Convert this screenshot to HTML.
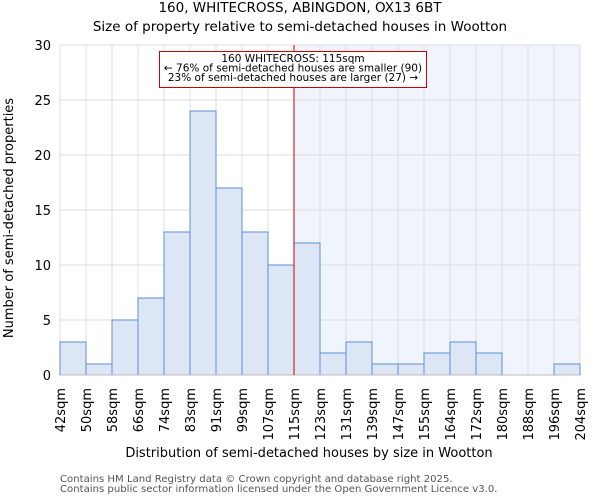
<!DOCTYPE html>
<html><head><meta charset="utf-8"><style>
body{margin:0;background:#fff;font-family:"DejaVu Sans","Liberation Sans",sans-serif}
svg text{font-family:"DejaVu Sans","Liberation Sans",sans-serif}
</style></head><body>
<svg id="c" width="600" height="500" xmlns="http://www.w3.org/2000/svg">
<text x="300" y="12" text-anchor="middle" font-size="13.5">160, WHITECROSS, ABINGDON, OX13 6BT</text>
<text x="300" y="31" text-anchor="middle" font-size="13.5">Size of property relative to semi-detached houses in Wootton</text>
<g id="plot"></g>
<text x="309" y="457" text-anchor="middle" font-size="13">Distribution of semi-detached houses by size in Wootton</text>
<text transform="translate(13,218) rotate(-90)" text-anchor="middle" font-size="13">Number of semi-detached properties</text>
<text x="60" y="482" font-size="10.1" fill="#555">Contains HM Land Registry data © Crown copyright and database right 2025.</text>
<text x="60" y="492" font-size="10.1" fill="#555">Contains public sector information licensed under the Open Government Licence v3.0.</text>
</svg>
<script>
const categories=["42sqm","50sqm","58sqm","66sqm","74sqm","83sqm","91sqm","99sqm","107sqm","115sqm","123sqm","131sqm","139sqm","147sqm","155sqm","164sqm","172sqm","180sqm","188sqm","196sqm","204sqm"];
const counts=[3,1,5,7,13,24,17,13,10,12,2,3,1,1,2,3,2,0,0,1];
const yTicks=[0,5,10,15,20,25,30];
const markerIndex=9;
const annotation=["160 WHITECROSS: 115sqm","← 76% of semi-detached houses are smaller (90)","23% of semi-detached houses are larger (27) →"];
const L=60,R=580,T=45,B=375,yMax=30;
const n=counts.length,bw=(R-L)/n;
const x=i=>L+i*bw, y=v=>B-(v/yMax)*(B-T);
const g=document.getElementById('plot'),NS="http://www.w3.org/2000/svg";
function mk(t,a,txt){const e=document.createElementNS(NS,t);for(const k in a)e.setAttribute(k,a[k]);if(txt!=null)e.textContent=txt;g.appendChild(e);return e;}
let e=mk('rect',{x:x(markerIndex),y:T,width:R-x(markerIndex),height:B-T,fill:'#f0f4fc'});


for(const t of yTicks){e=mk('line',{x1:L,x2:R,y1:y(t),y2:y(t),stroke:'#ddd'});


e=mk('text',{x:L-9,y:y(t)+5,'text-anchor':'end','font-size':13},t);

}
for(let i=0;i<=n;i++){e=mk('line',{x1:x(i),x2:x(i),y1:T,y2:B,stroke:'#ddd'});

}
counts.forEach((v,i)=>{e=mk('rect',{x:x(i),y:y(v),width:bw,height:B-y(v),fill:'#dce6f4',stroke:'#5b8fd6','stroke-width':1});

});
e=mk('line',{x1:L,x2:R,y1:B,y2:B,stroke:'#bbb'});


categories.forEach((c,i)=>{e=mk('text',{transform:`translate(${x(i)+5},388) rotate(-90)`,'text-anchor':'end','font-size':13},c);

});
e=mk('line',{x1:x(markerIndex),x2:x(markerIndex),y1:T,y2:B,stroke:'#cc0000','stroke-width':1});


e=mk('rect',{x:159.5,y:51.5,width:267,height:36,fill:'#fff',stroke:'#cc0000'});


annotation.forEach((s,k)=>{e=mk('text',{x:293,y:62+k*9.5,'text-anchor':'middle','font-size':10.5},s);

});
</script>
</body></html>
